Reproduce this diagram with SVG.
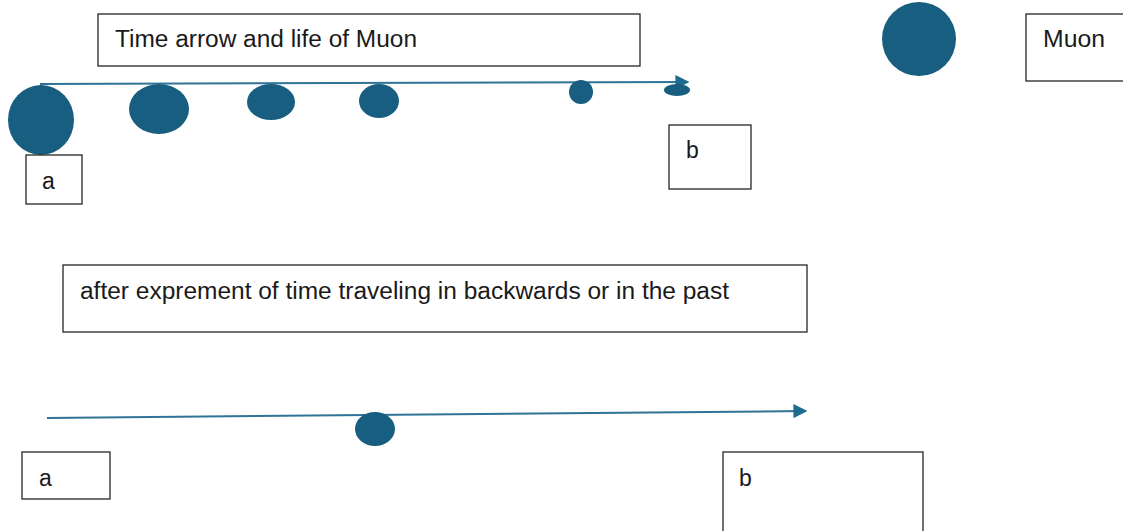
<svg xmlns="http://www.w3.org/2000/svg" width="1123" height="531" viewBox="0 0 1123 531">
<defs>
<style>
.box{fill:#fff;stroke:#262626;stroke-width:1.3}
.t{font-family:"Liberation Sans","Open Sans",Arial,sans-serif;font-size:23px;fill:#1a1a1a}
.dot{fill:#175e80}
.ln{stroke:#2f7396;stroke-width:2;fill:none}
</style>
<marker id="ah2" viewBox="0 0 10 10" refX="9" refY="5" markerWidth="7" markerHeight="7" orient="auto">
<path d="M0,0 L10,5 L0,10 z" fill="#1f6a8f"/>
</marker>
</defs>
<rect width="1123" height="531" fill="#fff"/>
<g id="connectors">
<line class="ln" x1="40" y1="84" x2="688" y2="82" marker-end="url(#ah2)"/>
<line class="ln" x1="47" y1="418" x2="806" y2="411" marker-end="url(#ah2)"/>
</g>
<g id="title"><rect class="box" x="98" y="14" width="542" height="52"/><text class="t" x="115" y="47" textLength="302" lengthAdjust="spacingAndGlyphs">Time arrow and life of Muon</text></g>
<g id="muon-legend-dot"><circle class="dot" cx="919" cy="39" r="37"/></g>
<g id="muon-legend"><rect class="box" x="1026" y="14" width="105" height="67"/><text class="t" x="1043" y="47" textLength="62" lengthAdjust="spacingAndGlyphs">Muon</text></g>
<g id="muon1"><ellipse class="dot" cx="41" cy="120" rx="33" ry="35"/></g>
<g id="muon2"><ellipse class="dot" cx="159" cy="109" rx="30" ry="25"/></g>
<g id="muon3"><ellipse class="dot" cx="271" cy="102" rx="24" ry="18"/></g>
<g id="muon4"><ellipse class="dot" cx="379" cy="101" rx="20" ry="17"/></g>
<g id="muon5"><circle class="dot" cx="581" cy="92" r="12"/></g>
<g id="muon6"><ellipse class="dot" cx="677" cy="90" rx="13" ry="6"/></g>
<g id="a-top"><rect class="box" x="26" y="155" width="56" height="49"/><text class="t" x="42" y="189">a</text></g>
<g id="b-top"><rect class="box" x="669" y="125" width="82" height="64"/><text class="t" x="686" y="158">b</text></g>
<g id="subtitle"><rect class="box" x="63" y="265" width="744" height="67"/><text class="t" x="80" y="299" textLength="649" lengthAdjust="spacingAndGlyphs">after exprement of time traveling in backwards or in the past</text></g>
<g id="muon-past"><ellipse class="dot" cx="375" cy="429" rx="20" ry="17"/></g>
<g id="a-bottom"><rect class="box" x="22" y="452" width="88" height="47"/><text class="t" x="39" y="486">a</text></g>
<g id="b-bottom"><rect class="box" x="723" y="452" width="200" height="85"/><text class="t" x="739" y="486">b</text></g>
</svg>
